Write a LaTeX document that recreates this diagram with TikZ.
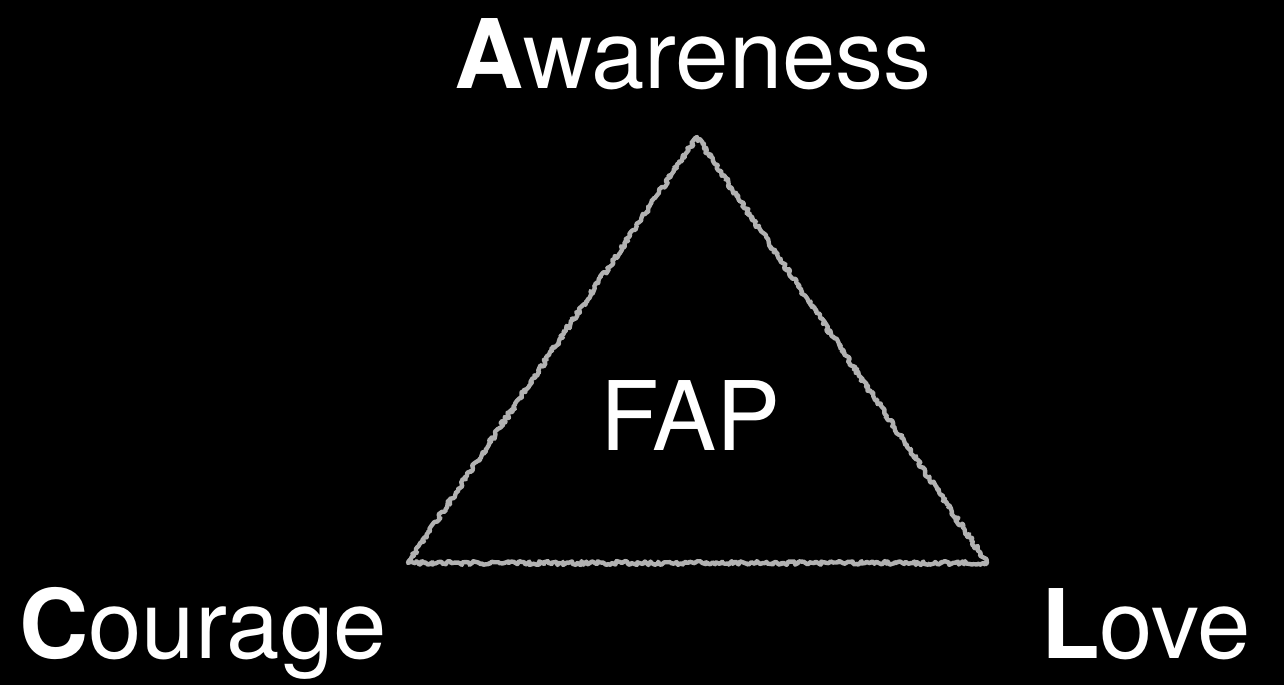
\documentclass[tikz,border=0pt]{standalone}
\usepackage{fontspec}
\setmainfont{TeX Gyre Heros}
\usetikzlibrary{decorations.pathmorphing}

\begin{document}
\begin{tikzpicture}[
  x=0.5pt, y=-0.5pt,
  word/.style={text=white, font=\fontsize{48}{57}\selectfont,
               anchor=base, inner sep=0pt},
  chalk/.style={draw=black!30, line width=2.2pt, line join=round,
                decorate, decoration={random steps, segment length=1pt,
                amplitude=1pt}},
]
  \fill[black] (0,0) rectangle (1284,685);

  \coordinate (top)   at (697,137);
  \coordinate (left)  at (408,563);
  \coordinate (right) at (987,563);
  \draw[chalk] (top) -- (right) -- (left) -- cycle;

  \node[word] (aw)  at (693,88)  {\textbf{A}wareness};
  \node[word] (co)  at (203,658) {\textbf{C}ourage};
  \node[word] (lo)  at (1146,658) {\textbf{L}ove};
  \node[word] (fap) at (690,450) {FAP};
\end{tikzpicture}
\end{document}
